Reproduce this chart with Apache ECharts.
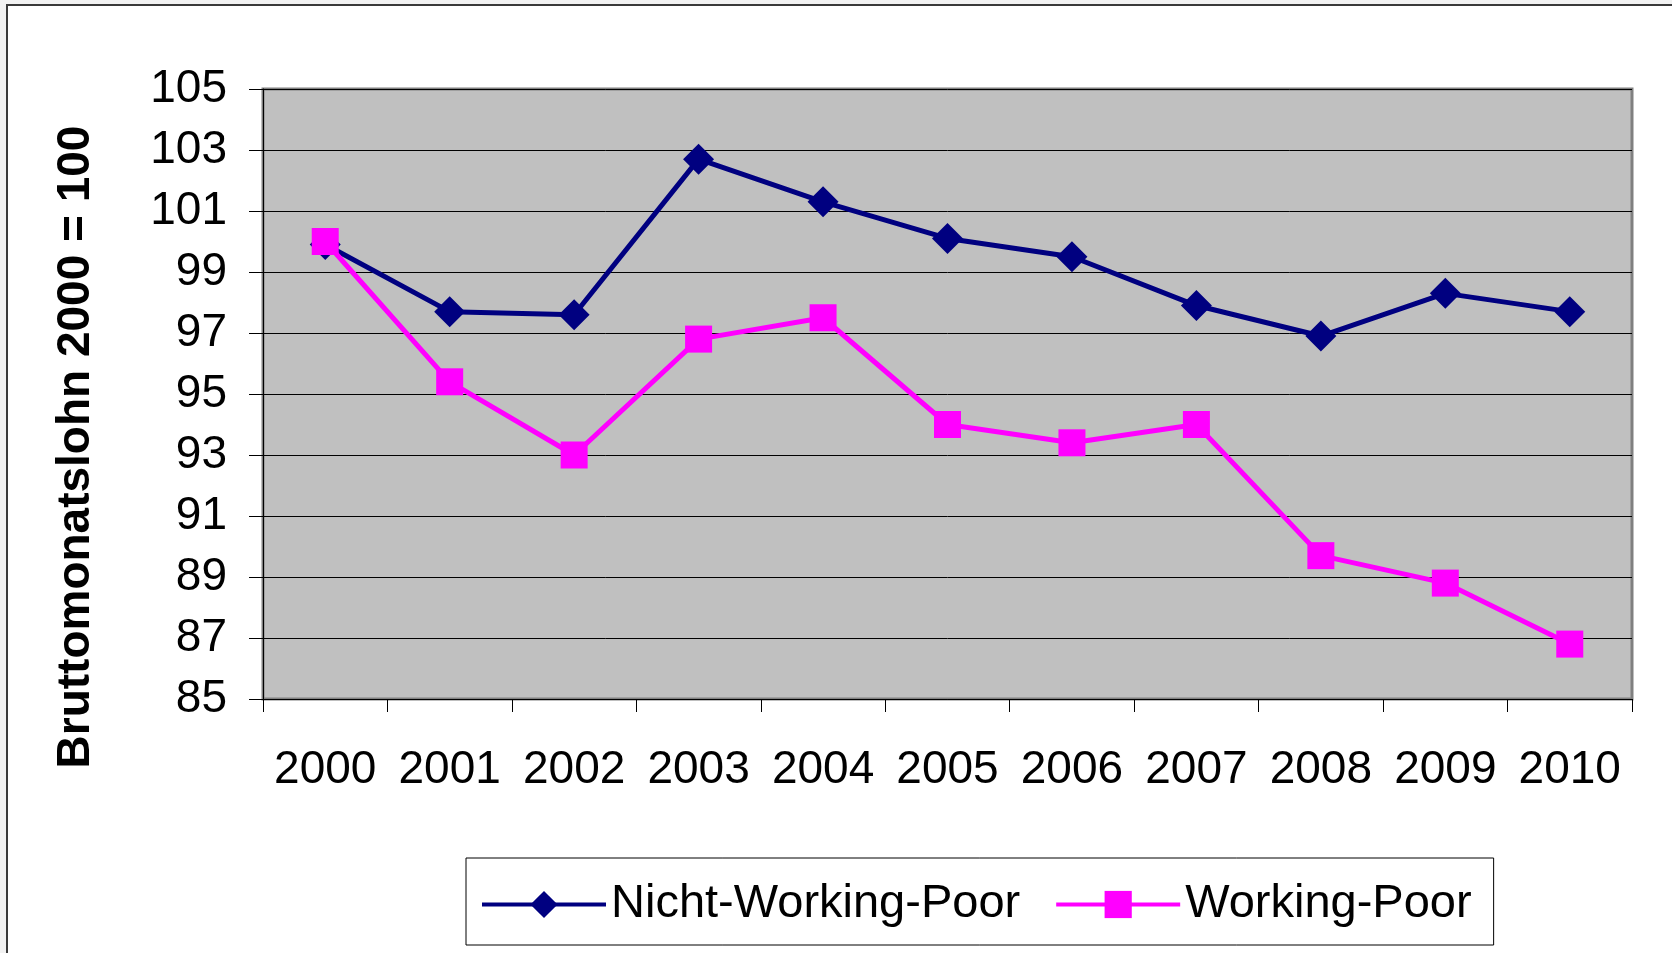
<!DOCTYPE html>
<html>
<head>
<meta charset="utf-8">
<script src="https://cdn.jsdelivr.net/npm/echarts@6/dist/echarts.min.js"></script>
<style>
  html, body { margin: 0; padding: 0; background: #f2f2f2; }
  #chart { width: 1672px; height: 953px; }
</style>
</head>
<body>
<div id="chart"></div>
<script>
const years = ['2000', '2001', '2002', '2003', '2004', '2005', '2006', '2007', '2008', '2009', '2010']
const nichtWorkingPoor = [99.9, 97.7, 97.6, 102.7, 101.3, 100.1, 99.5, 97.9, 96.9, 98.3, 97.7]
const workingPoor = [100.0, 95.4, 93.0, 96.8, 97.5, 94.0, 93.4, 94.0, 89.7, 88.8, 86.8]
const seriesNames = ['Nicht-Working-Poor', 'Working-Poor']
const yTitle = 'Bruttomonatslohn 2000 = 100'

const font = 'Liberation Sans, Arial, sans-serif'
let myChart = echarts.init(document.getElementById('chart'))
let option = {
  animation: false,
  textStyle: { fontFamily: font },
  graphic: [
    {
      // outer chart frame, cut off at right and bottom
      type: 'rect',
      z: -10,
      shape: { x: 7, y: 5, width: 2000, height: 2000 },
      style: { fill: '#fff', stroke: '#3a3a3a', lineWidth: 2 }
    },
    {
      type: 'text',
      x: 76,
      y: 447,
      rotation: Math.PI / 2,
      style: {
        text: yTitle,
        font: 'bold 46px ' + font,
        fill: '#000',
        textAlign: 'center',
        textVerticalAlign: 'middle'
      }
    }
  ],
  grid: {
    left: 263,
    top: 89,
    right: 40,
    bottom: 254,
    show: true,
    backgroundColor: '#c0c0c0',
    borderColor: '#808080',
    borderWidth: 3
  },
  legend: {
    left: 466,
    top: 858,
    padding: [23, 22, 17, 14],
    itemGap: 34,
    itemWidth: 124,
    itemHeight: 34,
    borderColor: '#000',
    borderWidth: 1,
    backgroundColor: '#fff',
    lineStyle: { width: 4 },
    textStyle: { fontSize: 47, color: '#000', fontFamily: font },
    data: seriesNames
  },
  xAxis: {
    type: 'category',
    data: years,
    boundaryGap: true,
    axisLine: { lineStyle: { color: '#000', width: 1 } },
    axisTick: { show: true, length: 13, lineStyle: { color: '#000' } },
    axisLabel: { fontSize: 46, color: '#000', margin: 48, lineHeight: 46, interval: 0 },
    splitLine: { show: false }
  },
  yAxis: {
    type: 'value',
    min: 85,
    max: 105,
    interval: 2,
    axisLine: { show: true, lineStyle: { color: '#000', width: 1 } },
    axisTick: { show: true, length: 14, lineStyle: { color: '#000' } },
    axisLabel: { fontSize: 46, color: '#000', margin: 36 },
    splitLine: { show: true, lineStyle: { color: '#000', width: 1 } }
  },
  series: [
    {
      name: seriesNames[0],
      type: 'line',
      data: nichtWorkingPoor,
      symbol: 'diamond',
      symbolSize: 31,
      lineStyle: { color: '#000080', width: 5 },
      itemStyle: { color: '#000080' }
    },
    {
      name: seriesNames[1],
      type: 'line',
      data: workingPoor,
      symbol: 'rect',
      symbolSize: 27,
      lineStyle: { color: '#ff00ff', width: 5 },
      itemStyle: { color: '#ff00ff' }
    }
  ]
}
myChart.setOption(option)
window.addEventListener('resize', () => myChart.resize())
</script>
</body>
</html>
